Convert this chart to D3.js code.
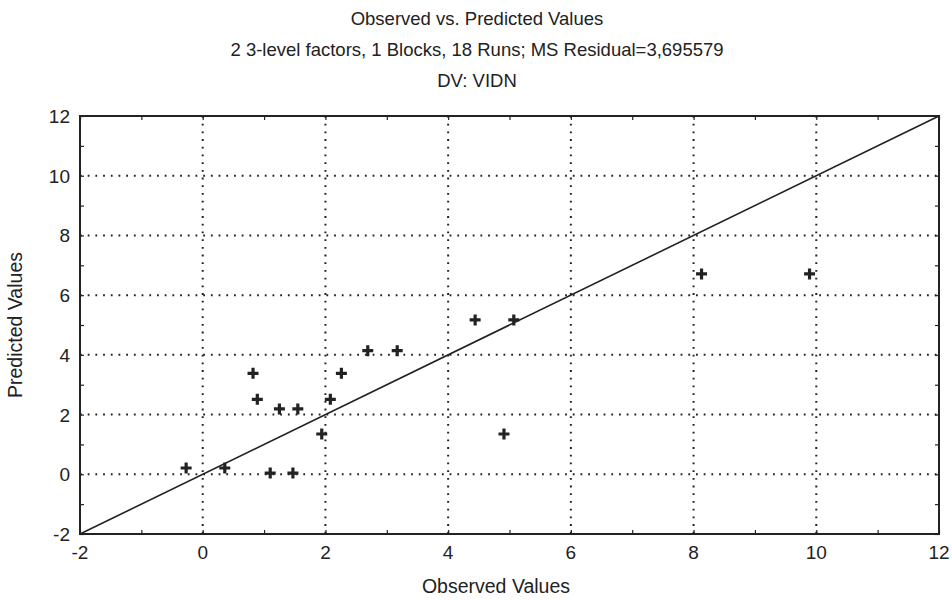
<!DOCTYPE html>
<html lang="en">
<head>
  <meta charset="utf-8">
  <title>Observed vs. Predicted Values</title>
  <script src="https://d3js.org/d3.v7.min.js"></script>
  <style>
    body { margin: 0; background: #fff; }
    svg text { font-family: "Liberation Sans", Arial, sans-serif; fill: #222; }
  </style>
</head>
<body>
  <svg id="chart" width="952" height="601"></svg>
  <script>
    // observed / predicted pairs
    const observed  = [-0.27, 0.36, 0.82, 0.89, 1.25, 1.55, 1.10, 1.47, 1.94, 2.08, 2.26, 2.69, 3.17, 4.44, 5.07, 4.91, 8.13, 9.89];
    const predicted = [ 0.21, 0.21, 3.38, 2.51, 2.19, 2.19, 0.04, 0.04, 1.35, 2.51, 3.38, 4.14, 4.14, 5.17, 5.17, 1.35, 6.71, 6.71];
    const majorTicks = [-2, 0, 2, 4, 6, 8, 10, 12];
    const titles = [
      "Observed vs. Predicted Values",
      "2 3-level factors, 1 Blocks, 18 Runs; MS Residual=3,695579",
      "DV: VIDN"
    ];

    const width = 952, height = 601;
    const margin = { top: 116, right: 13, bottom: 67, left: 80 };

    const svg = d3.select("#chart");

    const x = d3.scaleLinear().domain([-2, 12]).range([margin.left, width - margin.right]);
    const y = d3.scaleLinear().domain([-2, 12]).range([height - margin.bottom, margin.top]);

    const minor = d3.range(-2, 13, 1);
    const grid = majorTicks.filter(d => d > -2 && d < 12);

    // dotted grid
    svg.append("g").selectAll("line")
      .data(grid)
      .join("line")
      .attr("x1", d => x(d)).attr("x2", d => x(d))
      .attr("y1", y(12)).attr("y2", y(-2))
      .style("stroke", "#222")
      .style("stroke-width", 2)
      .style("stroke-dasharray", "1.8,5.9");

    svg.append("g").selectAll("line")
      .data(grid)
      .join("line")
      .attr("y1", d => y(d)).attr("y2", d => y(d))
      .attr("x1", x(-2)).attr("x2", x(12))
      .style("stroke", "#222")
      .style("stroke-width", 2)
      .style("stroke-dasharray", "1.8,5.9");

    // axes with inward ticks on all four sides
    const tickLen = 4;
    svg.append("g")
      .attr("transform", `translate(0,${y(-2)})`)
      .call(d3.axisBottom(x).tickValues(minor).tickSize(-tickLen).tickFormat(""));
    svg.append("g")
      .attr("transform", `translate(0,${y(12)})`)
      .call(d3.axisTop(x).tickValues(minor).tickSize(-tickLen).tickFormat(""));
    svg.append("g")
      .attr("transform", `translate(${x(-2)},0)`)
      .call(d3.axisLeft(y).tickValues(minor).tickSize(-tickLen).tickFormat(""));
    svg.append("g")
      .attr("transform", `translate(${x(12)},0)`)
      .call(d3.axisRight(y).tickValues(minor).tickSize(-tickLen).tickFormat(""));
    svg.selectAll(".domain").remove();
    svg.selectAll(".tick line").style("stroke", "#222").style("stroke-width", 1.2);

    // frame
    svg.append("rect")
      .attr("x", x(-2)).attr("y", y(12))
      .attr("width", x(12) - x(-2)).attr("height", y(-2) - y(12))
      .style("fill", "none")
      .style("stroke", "#222")
      .style("stroke-width", 2);

    // tick labels
    svg.append("g").selectAll("text")
      .data(majorTicks)
      .join("text")
      .attr("x", d => x(d))
      .attr("y", y(-2) + 25)
      .attr("text-anchor", "middle")
      .style("font-size", "19px")
      .text(d => d);

    svg.append("g").selectAll("text")
      .data(majorTicks)
      .join("text")
      .attr("x", x(-2) - 10)
      .attr("y", d => y(d) + 7)
      .attr("text-anchor", "end")
      .style("font-size", "19px")
      .text(d => d);

    // identity line
    svg.append("line")
      .attr("x1", x(-2)).attr("y1", y(-2))
      .attr("x2", x(12)).attr("y2", y(12))
      .style("stroke", "#222")
      .style("stroke-width", 1.6);

    // points as plus signs
    const pts = observed.map((o, i) => [o, predicted[i]]);
    const arm = 5.5;
    svg.append("g").selectAll("path")
      .data(pts)
      .join("path")
      .attr("d", d => `M${x(d[0]) - arm},${y(d[1])}H${x(d[0]) + arm}M${x(d[0])},${y(d[1]) - arm}V${y(d[1]) + arm}`)
      .style("stroke", "#222")
      .style("stroke-width", 3.2)
      .style("fill", "none");

    // titles
    svg.append("g").selectAll("text")
      .data(titles)
      .join("text")
      .attr("x", 477)
      .attr("y", (d, i) => 25 + i * 31)
      .attr("text-anchor", "middle")
      .style("font-size", "18.5px")
      .text(d => d);

    svg.append("text")
      .attr("x", 496)
      .attr("y", 593)
      .attr("text-anchor", "middle")
      .style("font-size", "19.5px")
      .text("Observed Values");

    svg.append("text")
      .attr("transform", `translate(22,${(y(-2) + y(12)) / 2}) rotate(-90)`)
      .attr("text-anchor", "middle")
      .style("font-size", "19.5px")
      .text("Predicted Values");
  </script>
</body>
</html>
